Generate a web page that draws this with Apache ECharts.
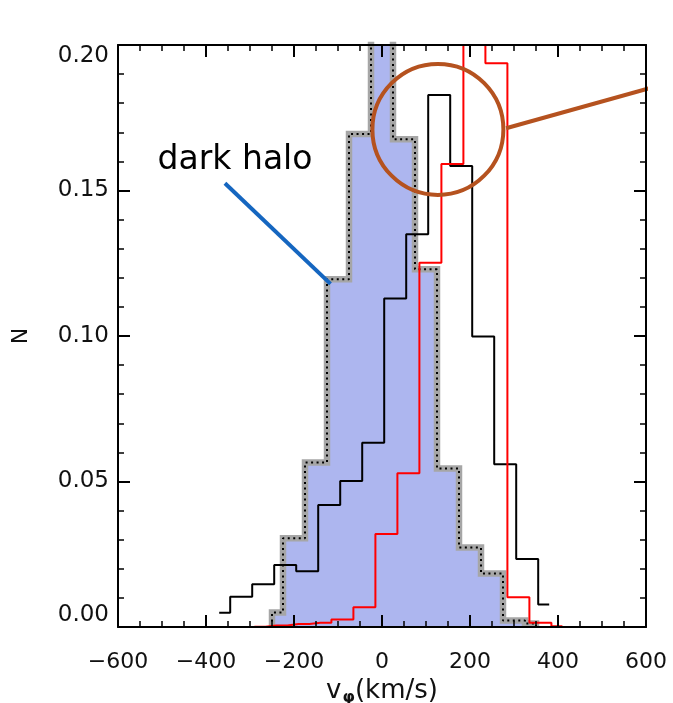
<!DOCTYPE html>
<html>
<head>
<meta charset="utf-8">
<title>v_phi histogram</title>
<script src="https://cdn.jsdelivr.net/npm/echarts@6/dist/echarts.min.js"></script>
<style>
  html, body { margin: 0; padding: 0; background: #fff; }
  #chart { width: 673px; height: 703px; }
</style>
</head>
<body>
<div id="chart"></div>
<script>
// bin centres (km/s) and normalised counts
const haloCentres = [-250, -200, -150, -100, -50, 0, 50, 100, 150, 200, 250, 300, 350];
const haloValues = [0.005, 0.0305, 0.0565, 0.1195, 0.1694, 0.23, 0.1676, 0.1229, 0.0545, 0.0273, 0.0184, 0.0022, 0.0012];

const blackCentres = [-370, -320, -270, -220, -170, -120, -70, -20, 30, 80, 130, 180, 230, 280, 330, 380];
const blackValues = [0.0049, 0.0104, 0.0147, 0.0213, 0.0192, 0.0419, 0.0502, 0.0633, 0.1129, 0.135, 0.1828, 0.1584, 0.0998, 0.0559, 0.0234, 0.0077];

const redCentres = [-290, -240, -190, -140, -90, -40, 10, 60, 110, 160, 210, 260, 310, 360, 410];
const redValues = [0.0001, 0.0005, 0.001, 0.0015, 0.0026, 0.0068, 0.032, 0.0528, 0.1252, 0.1591, 0.25, 0.1937, 0.0102, 0.0015, 0.0003];

// annotations, in data coordinates
const haloLabel = [-334, 0.1605];
const haloPointer = [[-357, 0.1525], [-117, 0.1179]];
const circleCentre = [127, 0.171];
const circleLink = [[282, 0.1714], [661, 0.1874]];

const FONT = 'DejaVu Sans';

function pairs(xs, ys) {
  return xs.map((x, i) => [x, ys[i]]);
}

// outline of the halo histogram: drops to zero at both ends
const haloEdge = [[haloCentres[0], 0], ...pairs(haloCentres, haloValues), [haloCentres[haloCentres.length - 1], 0]];

const chart = echarts.init(document.getElementById('chart'), null, { renderer: 'canvas' });

const axisCommon = {
  type: 'value',
  axisLine: { onZero: false, lineStyle: { color: '#000', width: 2 } },
  axisTick: { inside: true, length: 12, lineStyle: { color: '#000', width: 2 } },
  minorTick: { show: true, length: 6, lineStyle: { color: '#000', width: 1.5 } },
  splitLine: { show: false },
  z: 10,
};

const option = {
  animation: false,
  backgroundColor: '#fff',
  grid: { left: 118, right: 27, top: 45, bottom: 76, outerBoundsMode: 'none', containLabel: false },
  xAxis: [
    {
      ...axisCommon,
      position: 'bottom',
      min: -600,
      max: 600,
      interval: 200,
      minorTick: { ...axisCommon.minorTick, splitNumber: 4 },
      axisLabel: {
        margin: 24,
        color: '#111',
        fontFamily: FONT,
        fontSize: 22,
        formatter: v => (v < 0 ? '\u2212' + Math.abs(v) : String(v)),
      },
      name: '{t|v}{s|\u03c6}{t|(km/s)}',
      nameLocation: 'middle',
      nameGap: 49,
      nameTextStyle: {
        rich: {
          t: { fontFamily: FONT, fontSize: 26, color: '#111' },
          s: { fontFamily: FONT, fontSize: 16, fontWeight: 'bold', color: '#111', padding: [14, 0, 0, 1] },
        },
      },
    },
    {
      ...axisCommon,
      position: 'top',
      min: -600,
      max: 600,
      interval: 200,
      minorTick: { ...axisCommon.minorTick, splitNumber: 4 },
      axisLabel: { show: false },
    },
  ],
  yAxis: [
    {
      ...axisCommon,
      position: 'left',
      min: 0,
      max: 0.2,
      interval: 0.05,
      minorTick: { ...axisCommon.minorTick, splitNumber: 5 },
      axisLabel: {
        margin: 9,
        color: '#111',
        fontFamily: FONT,
        fontSize: 23,
        formatter: v => v.toFixed(2),
        verticalAlignMaxLabel: 'top',
        verticalAlignMinLabel: 'bottom',
      },
      name: 'N',
      nameLocation: 'middle',
      nameGap: 86,
      nameTextStyle: { fontFamily: FONT, fontSize: 22, color: '#111' },
    },
    {
      ...axisCommon,
      position: 'right',
      min: 0,
      max: 0.2,
      interval: 0.05,
      minorTick: { ...axisCommon.minorTick, splitNumber: 5 },
      axisLabel: { show: false },
    },
  ],
  series: [
    {
      name: 'dark halo fill',
      type: 'line',
      step: 'middle',
      data: haloEdge,
      symbol: 'none',
      lineStyle: { width: 0 },
      areaStyle: { color: '#adb6ef', opacity: 1 },
      z: 1,
    },
    {
      name: 'dark halo outline',
      type: 'line',
      step: 'middle',
      data: haloEdge,
      symbol: 'none',
      lineStyle: { color: '#a6a6a6', width: 6.5, join: 'miter' },
      z: 2,
    },
    {
      name: 'dark halo dots',
      type: 'line',
      step: 'middle',
      data: haloEdge,
      symbol: 'none',
      lineStyle: { color: '#000', width: 2, type: [2, 3.5] },
      z: 3,
    },
    {
      name: 'black',
      type: 'line',
      step: 'middle',
      data: pairs(blackCentres, blackValues),
      symbol: 'none',
      lineStyle: { color: '#000', width: 2 },
      z: 4,
    },
    {
      name: 'red',
      type: 'line',
      step: 'middle',
      data: pairs(redCentres, redValues),
      symbol: 'none',
      lineStyle: { color: '#ff0000', width: 2 },
      z: 5,
    },
    {
      name: 'pointer',
      type: 'line',
      data: haloPointer,
      symbol: 'none',
      lineStyle: { color: '#1566c0', width: 4 },
      z: 6,
    },
    {
      name: 'circle',
      type: 'scatter',
      data: [circleCentre],
      symbol: 'circle',
      symbolSize: 131,
      itemStyle: { color: 'rgba(0,0,0,0)', borderColor: '#b5521f', borderWidth: 4, opacity: 1 },
      z: 6,
    },
    {
      name: 'link',
      type: 'line',
      data: circleLink,
      symbol: 'none',
      clip: false,
      lineStyle: { color: '#b5521f', width: 4 },
      z: 6,
    },
    {
      name: 'label',
      type: 'scatter',
      data: [haloLabel],
      symbolSize: 1,
      itemStyle: { color: 'rgba(0,0,0,0)', opacity: 1 },
      label: {
        show: true,
        position: 'inside',
        formatter: 'dark halo',
        fontFamily: FONT,
        fontSize: 33,
        color: '#000',
      },
      z: 6,
    },
  ],
};

chart.setOption(option);
</script>
</body>
</html>
